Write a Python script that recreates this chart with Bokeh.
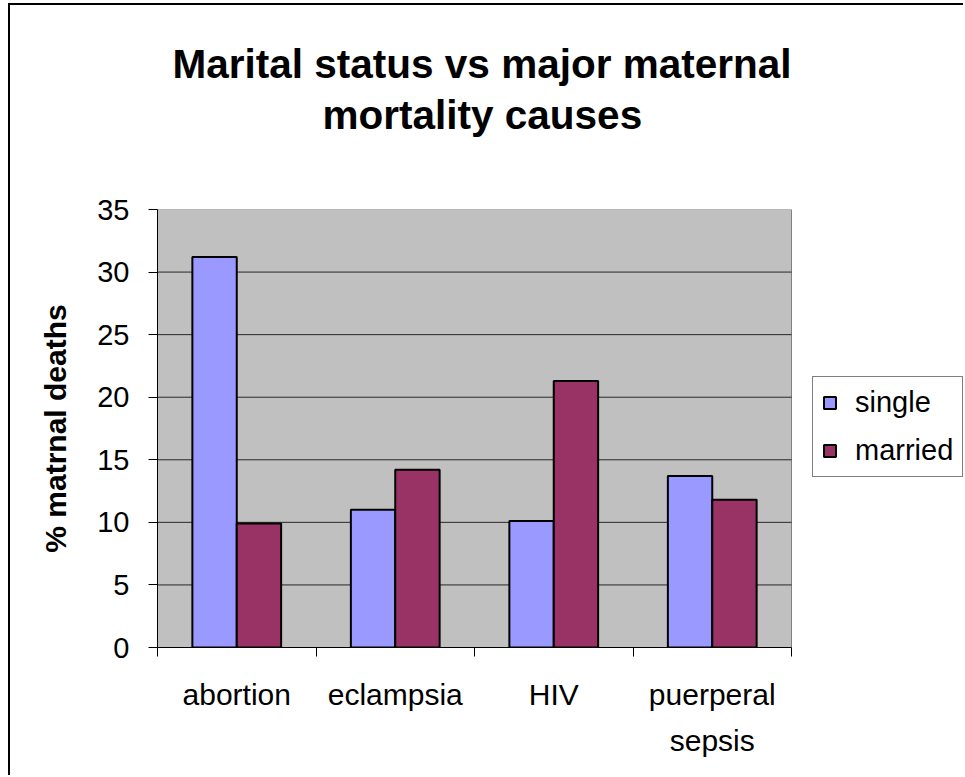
from bokeh.plotting import figure
from bokeh.models import (Title, Legend, LegendItem, FixedTicker, LinearAxis,
                          ColumnDataSource, Range1d)
from bokeh.embed import file_html
from bokeh.resources import INLINE

# ---- data ----
categories = ["abortion", "eclampsia", "HIV", "puerperal sepsis"]
category_labels = ["abortion", "eclampsia", "HIV", "puerperal\nsepsis"]
single = [31.2, 11.0, 10.1, 13.7]
married = [9.9, 14.2, 21.3, 11.8]
y_ticks = [0, 5, 10, 15, 20, 25, 30, 35]
title_lines = ["Marital status vs major maternal", "mortality causes"]

FONT = "Liberation Sans"
BAR_W = 0.28

# layout (pixels)
W, H = 955, 772
LEFT, TOP, BOTTOM = 147, 204, 130
PLOT_W = 634                      # width of the grey plot area
FRAME_W = W - LEFT                # frame extends to the right edge (room for legend)
n = len(categories)
x_end = n * FRAME_W / PLOT_W
y_max = y_ticks[-1]

idx = list(range(n))
src_single = ColumnDataSource(dict(x=[i + 0.5 - BAR_W / 2 for i in idx], top=single))
src_married = ColumnDataSource(dict(x=[i + 0.5 + BAR_W / 2 for i in idx], top=married))

p = figure(width=W, height=H, output_backend="svg", toolbar_location=None,
           x_range=Range1d(0, x_end), y_range=Range1d(0, y_max),
           x_axis_type=None, y_axis_type=None)
p.min_border_left = LEFT
p.min_border_right = 0
p.min_border_top = TOP
p.min_border_bottom = BOTTOM
p.background_fill_color = "white"
p.border_fill_color = "white"
p.outline_line_color = None
p.xgrid.grid_line_color = None
p.ygrid.grid_line_color = None
p.styles = {"margin-left": "8px", "margin-top": "3px",
            "border-left": "2px solid black", "border-top": "2px solid black"}

# grey plot area
p.quad(left=[0], right=[n], bottom=[0], top=[y_max], fill_color="#C0C0C0",
       line_color="#808080", line_width=1)
# horizontal gridlines
inner = [t for t in y_ticks if 0 < t < y_max]
p.segment(x0=[0] * len(inner), x1=[n] * len(inner), y0=inner, y1=inner,
          line_color="black", line_alpha=0.8, line_width=1)

r1 = p.vbar(x="x", top="top", width=BAR_W, source=src_single,
            fill_color="#9999FF", line_color="black", line_width=2)
r2 = p.vbar(x="x", top="top", width=BAR_W, source=src_married,
            fill_color="#993366", line_color="black", line_width=2)

# y axis
yaxis = LinearAxis(ticker=FixedTicker(ticks=y_ticks, minor_ticks=[]))
yaxis.major_tick_out = 9
yaxis.major_tick_in = 0
yaxis.major_label_standoff = 19
yaxis.major_label_text_font = FONT
yaxis.major_label_text_font_size = "29px"
yaxis.major_label_text_color = "black"
yaxis.axis_line_color = "black"
yaxis.major_tick_line_color = "black"
yaxis.axis_label = "% matrnal deaths"
yaxis.axis_label_text_font = FONT
yaxis.axis_label_text_font_style = "bold"
yaxis.axis_label_text_font_size = "30px"
yaxis.axis_label_text_color = "black"
yaxis.axis_label_standoff = 22
p.add_layout(yaxis, "left")

# x axis: labels at category centres, ticks at category boundaries
xaxis = LinearAxis(ticker=FixedTicker(ticks=[i + 0.5 for i in idx],
                                      minor_ticks=list(range(n + 1))),
                   bounds=(0, n))
xaxis.major_label_overrides = {i + 0.5: lab for i, lab in zip(idx, category_labels)}
xaxis.major_tick_line_color = None
xaxis.major_tick_out = 9
xaxis.major_tick_in = 0
xaxis.minor_tick_line_color = "black"
xaxis.minor_tick_out = 9
xaxis.minor_tick_in = 0
xaxis.major_label_standoff = 21
xaxis.major_label_text_font = FONT
xaxis.major_label_text_font_size = "30px"
xaxis.major_label_text_color = "black"
xaxis.major_label_text_line_height = 1.4
xaxis.axis_line_color = "black"
p.add_layout(xaxis, "below")

# titles: spacer nearest the plot, then line 2, then line 1 (left-aligned with offsets
# so that both lines are centred over the grey plot area)
spacer = Title(text=" ", text_font_size="1px", standoff=69)
t2 = Title(text=title_lines[1], align="left", offset=165, text_font=FONT,
           text_font_style="bold", text_font_size="40.5px", text_color="black",
           standoff=0)
t1 = Title(text=title_lines[0], align="left", offset=15, text_font=FONT,
           text_font_style="bold", text_font_size="40.5px", text_color="black",
           standoff=6)
p.add_layout(spacer, "above")
p.add_layout(t2, "above")
p.add_layout(t1, "above")

legend = Legend(items=[LegendItem(label="single", renderers=[r1]),
                       LegendItem(label="married", renderers=[r2])],
                location=(PLOT_W + 21, 170))
legend.padding = 9
legend.spacing = 15
legend.glyph_width = 15
legend.glyph_height = 15
legend.label_standoff = 18
legend.label_height = 32
legend.label_text_font = FONT
legend.label_text_font_size = "29px"
legend.label_text_color = "black"
legend.border_line_color = "black"
legend.border_line_width = 1
legend.background_fill_color = "white"
legend.background_fill_alpha = 1
p.add_layout(legend, "center")

open("out.html", "w").write(file_html(p, INLINE))
